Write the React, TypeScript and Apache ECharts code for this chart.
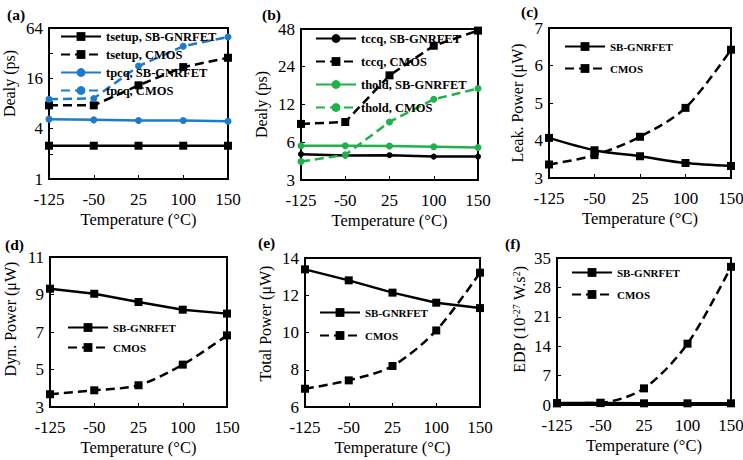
import React, { useEffect, useRef } from "react";
import * as echarts from "echarts";

const temps = ["-125", "-50", "25", "100", "150"];

// (a) delays (ps)
const tsetupSB = [2.5, 2.5, 2.5, 2.5, 2.5];
const tsetupCMOS = [7.6, 7.6, 13.2, 21.8, 28.2];
const tpcqSB = [5.2, 5.1, 5.0, 5.0, 4.9];
const tpcqCMOS = [9.0, 9.2, 22.4, 38.8, 50];
// (b) delays (ps)
const tccqSB = [4.82, 4.7, 4.73, 4.61, 4.61];
const tccqCMOS = [8.4, 8.7, 20.5, 35.3, 46.6];
const tholdSB = [5.62, 5.62, 5.6, 5.52, 5.45];
const tholdCMOS = [4.21, 4.76, 8.71, 13.2, 16.1];
// (c) leakage power (uW)
const leakSB = [4.07, 3.74, 3.58, 3.4, 3.32];
const leakCMOS = [3.36, 3.61, 4.1, 4.87, 6.42];
// (d) dynamic power (uW)
const dynSB = [9.31, 9.04, 8.6, 8.19, 7.98];
const dynCMOS = [3.68, 3.89, 4.16, 5.26, 6.82];
// (e) total power (uW)
const totSB = [13.39, 12.8, 12.14, 11.6, 11.31];
const totCMOS = [6.98, 7.43, 8.2, 10.11, 13.21];
// (f) EDP
const edpSB = [0.45, 0.45, 0.4, 0.4, 0.4];
const edpCMOS = [0.4, 0.55, 3.96, 14.6, 32.9];

// tick labels
const aTicks = [1, 4, 16, 64];
const bTicks = [3, 6, 12, 24, 48];
const cTicks = [3, 4, 5, 6, 7];
const dTicks = [3, 5, 7, 9, 11];
const eTicks = [6, 8, 10, 12, 14];
const fTicks = [0, 7, 14, 21, 28, 35];

const FONT = '"Liberation Serif", "Times New Roman", Times, serif';
const BLUE = "#1e7bcc";
const GREEN = "#22b04b";
const TICK_FS = 17;
const XNAME_FS = 16.5;
const YNAME_FS = 16;

const baseText = { color: "#000", fontFamily: FONT };

function xAx(gi: number) {
  return {
    type: "category",
    gridIndex: gi,
    data: temps,
    boundaryGap: false,
    axisLine: { show: true, lineStyle: { color: "#000", width: 2 } },
    axisTick: { show: true, inside: true, length: 4, lineStyle: { color: "#000", width: 1 } },
    axisLabel: { ...baseText, fontSize: TICK_FS, margin: 12, interval: 0 },
    splitLine: { show: false },
    name: "Temperature (°C)",
    nameLocation: "middle",
    nameGap: 32,
    nameTextStyle: { ...baseText, fontSize: XNAME_FS },
  };
}

function yAx(gi: number, name: any, ticks: number[], shift: number, extra: any = {}) {
  return {
    type: "value",
    gridIndex: gi,
    min: ticks[0],
    max: ticks[ticks.length - 1],
    axisLine: { show: true, lineStyle: { color: "#000", width: 2 } },
    axisTick: { show: true, inside: true, length: 4, lineStyle: { color: "#000", width: 1 }, customValues: ticks },
    axisLabel: { ...baseText, fontSize: TICK_FS, margin: 6, customValues: ticks },
    splitLine: { show: false },
    name,
    nameLocation: "middle",
    nameGap: 32,
    nameTextStyle: { ...baseText, fontSize: YNAME_FS, padding: [0, 0, 0, shift * 2] },
    ...extra,
  };
}

function ser(name: string, data: number[], gi: number, color: string, dashed: boolean, symbol: string, size: number, smooth: any = false) {
  return {
    type: "line",
    name,
    data,
    xAxisIndex: gi,
    yAxisIndex: gi,
    color,
    symbol,
    symbolSize: size,
    showSymbol: true,
    smooth,
    itemStyle: { color },
    lineStyle: { color, width: 2.5, type: dashed ? [9, 5] : "solid" },
  };
}

function legend(names: string[], left: number, top: number, gap: number, fs: number) {
  return {
    data: names,
    orient: "vertical",
    left,
    top,
    padding: 0,
    itemWidth: 40,
    itemHeight: 11,
    itemGap: gap,
    textStyle: { color: "#000", fontFamily: FONT, fontSize: fs, fontWeight: "bold" },
    selectedMode: false,
  };
}

const grids = [
  { left: 49, top: 28, width: 179, height: 151 },
  { left: 301, top: 29, width: 177, height: 151 },
  { left: 549, top: 28, width: 182, height: 150 },
  { left: 50, top: 257, width: 177, height: 150 },
  { left: 305, top: 258, width: 175, height: 149 },
  { left: 557, top: 258, width: 174, height: 147 },
].map((g) => ({ ...g, show: true, borderColor: "#000", borderWidth: 2, backgroundColor: "transparent", outerBoundsMode: "none", containLabel: false }));

const panelLabels = [
  { t: "(a)", x: 7, y: 6 },
  { t: "(b)", x: 262, y: 6 },
  { t: "(c)", x: 521, y: 3 },
  { t: "(d)", x: 5, y: 236 },
  { t: "(e)", x: 258, y: 234 },
  { t: "(f)", x: 505, y: 235 },
];

export default function App() {
  const ref = useRef<HTMLDivElement>(null);
  useEffect(() => {
    if (!ref.current) return;
    const chart = echarts.init(ref.current, undefined, { renderer: "svg" });
    const option: any = {
      animation: false,
      backgroundColor: "#fff",
      textStyle: { fontFamily: FONT, color: "#000" },
      title: panelLabels.map((p) => ({
        text: p.t,
        left: p.x,
        top: p.y,
        padding: 0,
        textStyle: { ...baseText, fontSize: 15.5, fontWeight: "bold" },
      })),
      grid: grids,
      xAxis: [0, 1, 2, 3, 4, 5].map((i) => xAx(i)),
      yAxis: [
        {
          ...yAx(0, "Dealy (ps)", aTicks, 20),
          type: "log",
          logBase: 2,
          axisTick: { show: true, inside: true, length: 4, lineStyle: { color: "#000", width: 1 } },
          axisLabel: {
            ...baseText,
            fontSize: TICK_FS,
            margin: 6,
            formatter: (v: number) => (aTicks.indexOf(Math.round(v)) >= 0 ? String(Math.round(v)) : ""),
          },
        },
        { ...yAx(1, "Dealy (ps)", bTicks, 0), type: "log", logBase: 2 },
        yAx(2, "Leak. Power (μW)", cTicks, 0, { nameGap: 24 }),
        yAx(3, "Dyn. Power (μW)", dTicks, 13),
        yAx(4, "Total Power (μW)", eTicks, 9),
        {
          ...yAx(5, "{a|EDP (10}{s|-27}{a| W.s}{s|2}{a|)}", fTicks, 12, { nameGap: 30 }),
          nameTextStyle: {
            ...baseText,
            fontSize: YNAME_FS,
            padding: [0, 0, 0, 24],
            rich: {
              a: { ...baseText, fontSize: YNAME_FS },
              s: { ...baseText, fontSize: 10, verticalAlign: "top", lineHeight: 15 },
            },
          },
        },
      ],
      legend: [
        legend(["tsetup, SB-GNRFET", "tsetup, CMOS", "tpcq, SB-GNRFET", "tpcq, CMOS"], 60, 30, 5, 12.5),
        legend(["tccq, SB-GNRFET", "tccq, CMOS", "thold, SB-GNRFET", "thold, CMOS"], 315, 32, 10, 12.5),
        legend(["SB-GNRFET", "CMOS"], 564, 41, 11, 11),
        legend(["SB-GNRFET", "CMOS"], 67, 322, 9, 11),
        legend(["SB-GNRFET", "CMOS"], 319, 307, 12, 11),
        legend(["SB-GNRFET", "CMOS"], 571, 267, 11, 11),
      ],
      series: [
        ser("tsetup, SB-GNRFET", tsetupSB, 0, "#000", false, "rect", 8),
        ser("tsetup, CMOS", tsetupCMOS, 0, "#000", true, "rect", 8),
        ser("tpcq, SB-GNRFET", tpcqSB, 0, BLUE, false, "circle", 7),
        ser("tpcq, CMOS", tpcqCMOS, 0, BLUE, true, "circle", 7),
        ser("tccq, SB-GNRFET", tccqSB, 1, "#000", false, "circle", 6),
        ser("tccq, CMOS", tccqCMOS, 1, "#000", true, "rect", 8),
        ser("thold, SB-GNRFET", tholdSB, 1, GREEN, false, "circle", 7),
        ser("thold, CMOS", tholdCMOS, 1, GREEN, true, "circle", 7),
        ser("SB-GNRFET", leakSB, 2, "#000", false, "rect", 8, 0.3),
        ser("CMOS", leakCMOS, 2, "#000", true, "rect", 8, 0.3),
        ser("SB-GNRFET", dynSB, 3, "#000", false, "rect", 8),
        ser("CMOS", dynCMOS, 3, "#000", true, "rect", 8, 0.3),
        ser("SB-GNRFET", totSB, 4, "#000", false, "rect", 8),
        ser("CMOS", totCMOS, 4, "#000", true, "rect", 8, 0.3),
        ser("SB-GNRFET", edpSB, 5, "#000", false, "rect", 8),
        ser("CMOS", edpCMOS, 5, "#000", true, "rect", 8, 0.3),
      ],
    };
    chart.setOption(option);
    return () => chart.dispose();
  }, []);
  return (
    <div
      ref={ref}
      style={{ position: "absolute", left: 0, top: 0, width: 743, height: 460, background: "#fff" }}
    />
  );
}
